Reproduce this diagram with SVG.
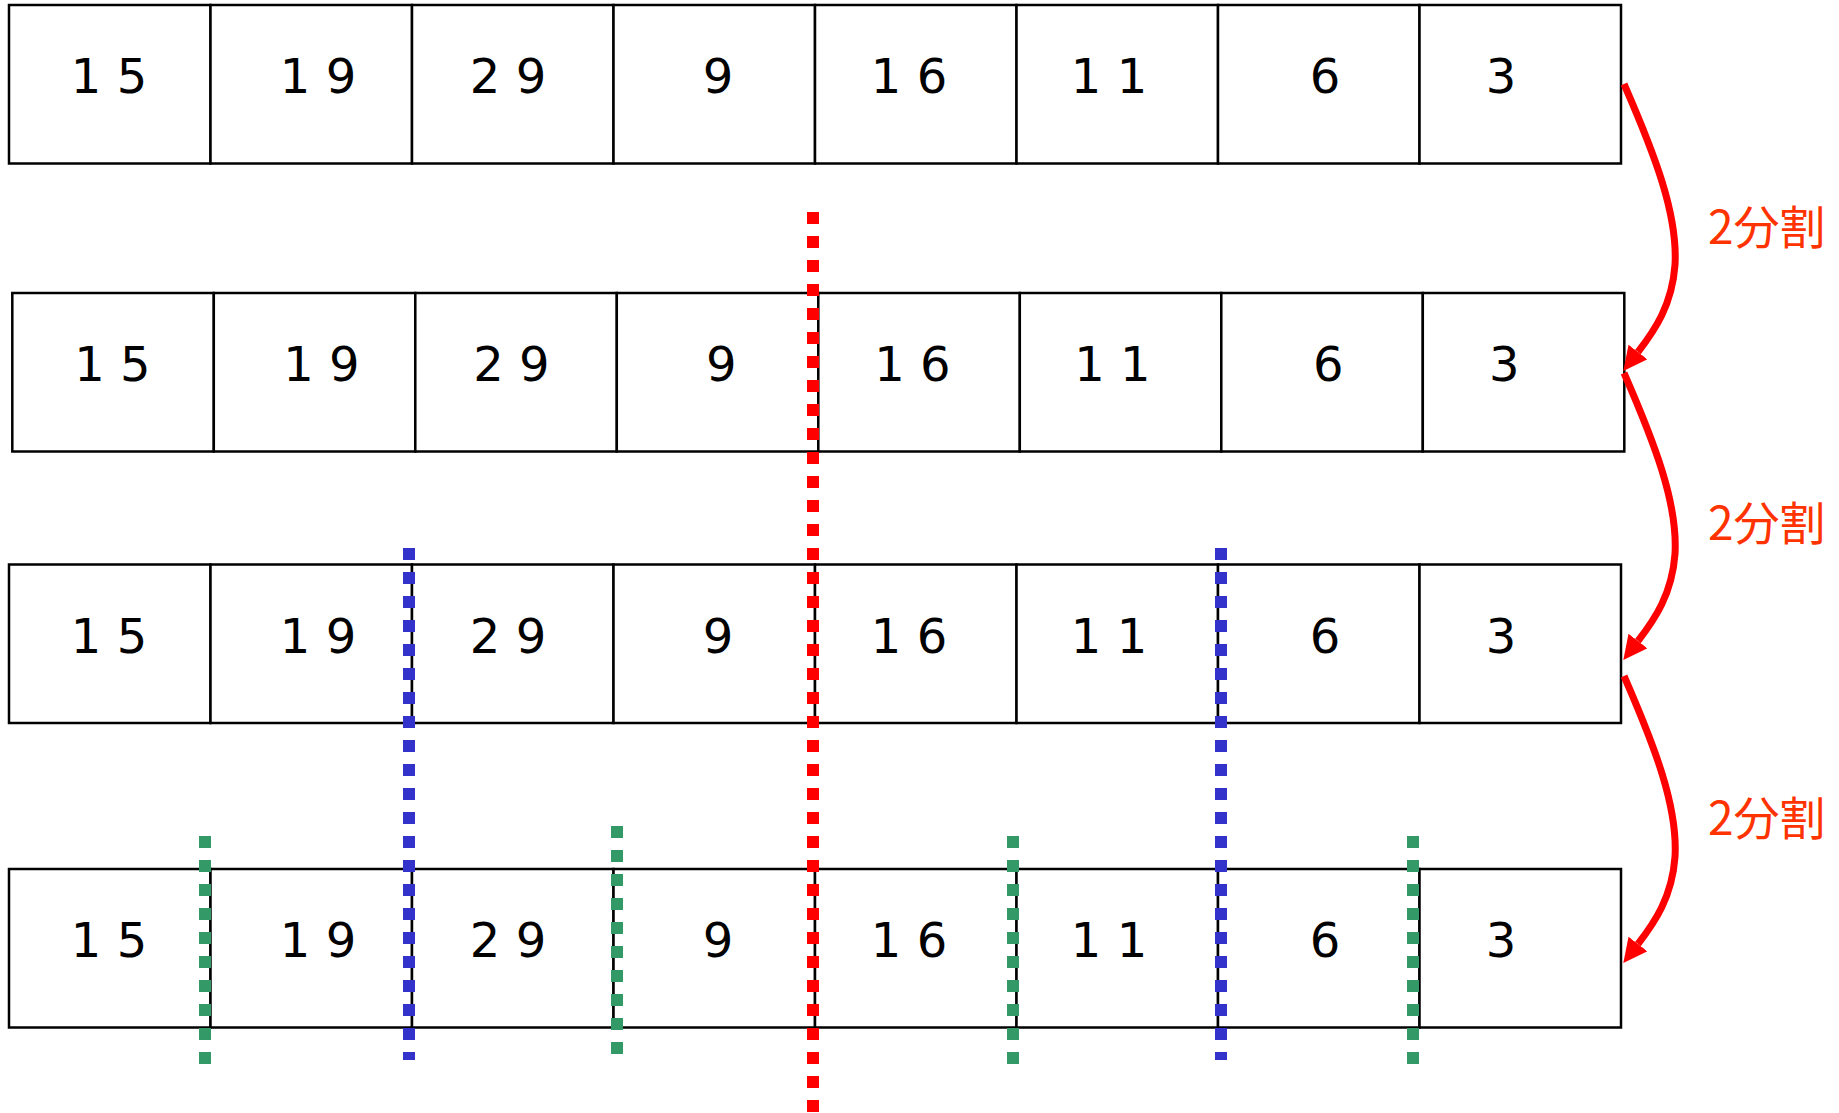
<svg xmlns="http://www.w3.org/2000/svg" width="1839" height="1113" viewBox="0 0 1839 1113">
<defs>
<style>
.cell{fill:#fff;stroke:#000;stroke-width:2.5}
.num{font-family:"DejaVu Sans",Verdana,sans-serif;font-size:48px;fill:#000;text-anchor:middle}
.lbl{font-family:"Noto Sans CJK JP","Noto Sans",sans-serif;font-size:46px;fill:#FF3300}
.dash{stroke-width:12;stroke-dasharray:12 12;fill:none}
.red{stroke:#FF0000}
.blue{stroke:#3333CC}
.green{stroke:#339966}
.arrow{fill:none;stroke:#FF0000;stroke-width:7;marker-end:url(#ah)}
</style>
<marker id="ah" markerUnits="userSpaceOnUse" markerWidth="26" markerHeight="26" refX="0" refY="12" orient="auto">
<path d="M0,0 L24,12 L0,24 Z" fill="#FF0000"/>
</marker>
<g id="rowcells">
<rect class="cell" x="0" y="0" width="201.5" height="158.5"/>
<rect class="cell" x="201.5" y="0" width="201.5" height="158.5"/>
<rect class="cell" x="403" y="0" width="201.5" height="158.5"/>
<rect class="cell" x="604.5" y="0" width="201.5" height="158.5"/>
<rect class="cell" x="806" y="0" width="201.5" height="158.5"/>
<rect class="cell" x="1007.5" y="0" width="201.5" height="158.5"/>
<rect class="cell" x="1209" y="0" width="201.5" height="158.5"/>
<rect class="cell" x="1410.5" y="0" width="201.5" height="158.5"/>
<text class="num" x="100" y="88">1 5</text>
<text class="num" x="309" y="88">1 9</text>
<text class="num" x="499" y="88">2 9</text>
<text class="num" x="709" y="88">9</text>
<text class="num" x="900" y="88">1 6</text>
<text class="num" x="1100" y="88">1 1</text>
<text class="num" x="1316" y="88">6</text>
<text class="num" x="1492" y="88">3</text>
</g>
</defs>
<rect width="1839" height="1113" fill="#fff"/>
<g id="row1"><use href="#rowcells" x="9" y="5"/></g>
<g id="row2"><use href="#rowcells" x="12.3" y="293"/></g>
<g id="row3"><use href="#rowcells" x="9" y="564.5"/></g>
<g id="row4"><use href="#rowcells" x="9" y="869"/></g>
<g id="dividers">
<line class="dash red" x1="813" y1="212" x2="813" y2="1112"/>
<line class="dash blue" x1="409" y1="548" x2="409" y2="1060"/>
<line class="dash blue" x1="1221" y1="548" x2="1221" y2="1060"/>
<line class="dash green" x1="205" y1="836" x2="205" y2="1064"/>
<line class="dash green" x1="617" y1="826" x2="617" y2="1054"/>
<line class="dash green" x1="1013" y1="836" x2="1013" y2="1064"/>
<line class="dash green" x1="1413" y1="836" x2="1413" y2="1064"/>
</g>
<g id="connectors">
<path class="arrow" d="M1624,84 C1655,155 1678,215 1675,265 C1672,305 1655,330 1638,352"/>
<path class="arrow" d="M1624,373 C1655,444 1678,504 1675,554 C1672,594 1655,619 1638,641"/>
<path class="arrow" d="M1624,676 C1655,747 1678,807 1675,857 C1672,897 1655,922 1638,944"/>
</g>
<g id="labels">
<text class="lbl" x="1708" y="244">2分割</text>
<text class="lbl" x="1708" y="540">2分割</text>
<text class="lbl" x="1708" y="835">2分割</text>
</g>
</svg>
